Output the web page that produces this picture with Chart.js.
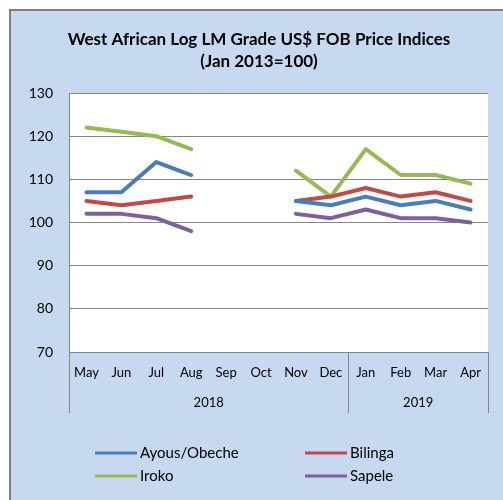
<!DOCTYPE html>
<html>
<head>
<meta charset="utf-8">
<script src="https://cdn.jsdelivr.net/npm/chart.js@4"></script>
<style>
  html, body { margin:0; padding:0; background:#fff; }
  #wrap { width:503px; height:500px; position:relative; }
</style>
</head>
<body>
<div id="wrap"><canvas id="chart" width="503" height="500"></canvas></div>
<script>
// West African log price indices, May 2018 - Apr 2019 (no data Sep/Oct)
const months = ['May','Jun','Jul','Aug','Sep','Oct','Nov','Dec','Jan','Feb','Mar','Apr'];
const years = [{label:'2018', from:0, to:7}, {label:'2019', from:8, to:11}];
const ayous   = [107, 107, 114, 111, null, null, 105, 104, 106, 104, 105, 103];
const bilinga = [105, 104, 105, 106, null, null, 105, 106, 108, 106, 107, 105];
const iroko   = [122, 121, 120, 117, null, null, 112, 106, 117, 111, 111, 109];
const sapele  = [102, 102, 101,  98, null, null, 102, 101, 103, 101, 101, 100];
const yTicks = [70, 80, 90, 100, 110, 120, 130];

const seriesNames = ['Ayous/Obeche','Bilinga','Iroko','Sapele'];
const seriesColors = ['#4a7ebb','#be4b48','#98b954','#7d60a0'];
const seriesData = [ayous, bilinga, iroko, sapele];

const frame = {
  id:'frame',
  beforeDraw(c){
    const ctx = c.ctx;
    ctx.save();
    ctx.fillStyle = '#c6d9f1';
    ctx.fillRect(9, 9, 494, 491);
    ctx.strokeStyle = '#7f7f7f';
    ctx.lineWidth = 2;
    ctx.beginPath();
    ctx.moveTo(10, 500); ctx.lineTo(10, 10); ctx.lineTo(503, 10);
    ctx.stroke();
    const a = c.chartArea;
    ctx.fillStyle = '#ffffff';
    ctx.fillRect(a.left, a.top, a.right - a.left, a.bottom - a.top);
    ctx.restore();
  },
  afterDraw(c){
    const ctx = c.ctx, x = c.scales.x, a = c.chartArea;
    ctx.save();
    // title
    ctx.fillStyle = '#000';
    ctx.textAlign = 'center';
    ctx.textBaseline = 'middle';
    ctx.font = 'bold 17px Lato';
    ctx.fillText('West African Log LM Grade US$ FOB Price Indices', 259, 40);
    ctx.fillText('(Jan 2013=100)', 259, 62);
    // year groups on x axis
    const half = (x.getPixelForValue(1) - x.getPixelForValue(0)) / 2;
    ctx.strokeStyle = '#868686';
    ctx.lineWidth = 1;
    ctx.font = '13px Lato';
    years.forEach((g, i) => {
      const l = x.getPixelForValue(g.from) - half;
      const r = x.getPixelForValue(g.to) + half;
      ctx.beginPath();
      if (i === 0) { ctx.moveTo(Math.round(l) + 0.5, a.bottom); ctx.lineTo(Math.round(l) + 0.5, 413); }
      ctx.moveTo(Math.round(r) + 0.5, a.bottom); ctx.lineTo(Math.round(r) + 0.5, 413);
      ctx.stroke();
      ctx.fillText(g.label, (l + r) / 2, 403);
    });
    // legend
    ctx.textAlign = 'left';
    ctx.font = '15px Lato';
    const spots = [[95, 453], [305, 453], [95, 476], [305, 476]];
    seriesNames.forEach((n, i) => {
      const [lx, ly] = spots[i];
      ctx.strokeStyle = seriesColors[i];
      ctx.lineWidth = 3;
      ctx.beginPath(); ctx.moveTo(lx, ly); ctx.lineTo(lx + 42, ly); ctx.stroke();
      ctx.fillStyle = '#000';
      ctx.fillText(n, lx + 45, ly);
    });
    ctx.restore();
  }
};

new Chart(document.getElementById('chart'), {
  type:'line',
  data:{
    labels: months,
    datasets: seriesNames.map((n, i) => ({
      label: n, data: seriesData[i], borderColor: seriesColors[i], backgroundColor: seriesColors[i],
      borderWidth: 4, pointRadius: 0, tension: 0, spanGaps: false, borderCapStyle: 'round', borderJoinStyle: 'round'
    }))
  },
  options:{
    responsive:false, animation:false, devicePixelRatio:1,
    layout:{ padding:{ left:0, top:93, right:15, bottom:87 } },
    plugins:{ legend:{display:false}, title:{display:false}, tooltip:{enabled:false} },
    scales:{
      x:{
        offset:true,
        grid:{ display:false, drawTicks:false },
        border:{ display:true, color:'#868686', width:1 },
        ticks:{ font:{family:'Lato', size:13}, color:'#000', padding:13, maxRotation:0, autoSkip:false },
        afterFit(s){ s.height = 61; }
      },
      y:{
        min:70, max:130,
        afterBuildTicks(s){ s.ticks = yTicks.map(v => ({value:v})); },
        grid:{ color:'#868686', lineWidth:1, drawTicks:false },
        border:{ display:true, color:'#868686', width:1 },
        ticks:{ font:{family:'Lato', size:14}, color:'#000', padding:16 },
        afterFit(s){ s.width = 69; }
      }
    }
  },
  plugins:[frame]
});
</script>
</body>
</html>
